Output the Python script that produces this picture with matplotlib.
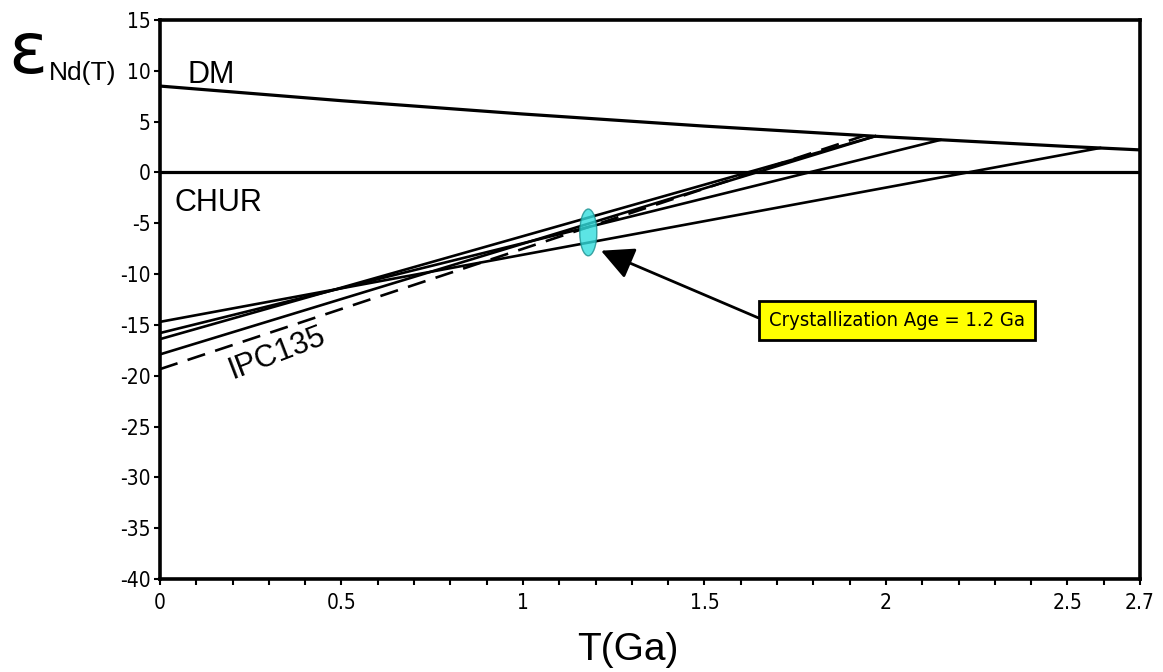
import numpy as np
import matplotlib
matplotlib.use("Agg")
import matplotlib.pyplot as plt
from matplotlib import font_manager
from matplotlib.font_manager import FontProperties
from matplotlib.patches import Ellipse

plt.rcParams["font.family"] = ["Liberation Sans", "DejaVu Sans"]

# look for a narrow / condensed face for the tick labels
cands = []
for f in font_manager.fontManager.ttflist:
    fn = f.fname.lower()
    if ("narrow" in fn or "condensed" in fn) and f.style == "normal" and f.weight in (400, "normal", "regular"):
        rank = 0 if "liberationsansnarrow" in fn.replace("-", "") else (1 if "sans" in fn else 2)
        cands.append((rank, f.fname))
cands.sort()
if cands:
    narrow = FontProperties(fname=cands[0][1])
else:
    narrow = FontProperties(family="Liberation Sans")

# Depleted mantle curve
dm_t = [0, 0.5, 1.0, 1.5, 2.0, 2.5, 2.7]
dm_eps = [8.5, 7.06, 5.75, 4.56, 3.5, 2.56, 2.22]

# sample evolution lines: eNd at T=0 and point where they meet DM
samp_e0 = [-14.7, -15.8, -16.4, -17.9, -19.35]
samp_tdm = [2.59, 2.15, 1.97, 1.97, 1.94]
samp_edm = [2.41, 3.2, 3.56, 3.56, 3.62]
samp_style = ["-", "-", "-", "-", "--"]

xticks = [0, 0.5, 1, 1.5, 2, 2.5, 2.7]
xticklabels = ["0", "0.5", "1", "1.5", "2", "2.5", "2.7"]
yticks = np.arange(-40, 16, 5)

cryst_age = 1.18
ell_eps = -5.9

fig = plt.figure(figsize=(11.63, 6.72), dpi=100)
ax = fig.add_axes([160/1163, 1-579/672, 980/1163, 559/672])

ax.plot(dm_t, dm_eps, color="black", lw=2.3, solid_capstyle="butt")
ax.axhline(0, color="black", lw=2.3)

for e0, t1, e1, ls in zip(samp_e0, samp_tdm, samp_edm, samp_style):
    if ls == "--":
        ax.plot([0, t1], [e0, e1], color="black", lw=1.9, dashes=(7, 4))
    else:
        ax.plot([0, t1], [e0, e1], color="black", lw=1.9)

ell = Ellipse((cryst_age, ell_eps), width=0.047, height=4.6,
              facecolor="#33dede", edgecolor="#1c8f8f", lw=1, alpha=0.8, zorder=5)
ax.add_patch(ell)

# callout box and arrow
ax.text(2.03, -14.6, "Crystallization Age = 1.2 Ga", ha="center", va="center",
        fontproperties=narrow, fontsize=14.5, zorder=6,
        bbox=dict(boxstyle="square,pad=0.5", fc="#ffff00", ec="black", lw=2))
ax.annotate("", xy=(1.215, -7.7), xytext=(1.648, -14.3),
            arrowprops=dict(arrowstyle="-|>,head_length=0.5,head_width=0.25",
                            mutation_scale=40, color="black", lw=2,
                            shrinkA=0, shrinkB=0), zorder=5)

ax.text(0.077, 8.78, "DM", fontsize=22)
ax.text(0.041, -3.8, "CHUR", fontsize=22)
ax.text(0.2, -20.3, "IPC135", fontsize=22, rotation=21, rotation_mode="anchor")

ax.set_xlim(0, 2.7)
ax.set_ylim(-40, 15)
ax.set_xticks(xticks)
ax.set_xticklabels(xticklabels, fontproperties=narrow, fontsize=15)
ax.set_xticks(np.arange(0.1, 2.7, 0.1), minor=True)
ax.set_yticks(yticks)
ax.set_yticklabels([str(v) for v in yticks], fontproperties=narrow, fontsize=15)
ax.tick_params(axis="x", which="both", length=4, width=1.5, pad=6, direction="out")
ax.tick_params(axis="y", length=4, width=1.5, pad=3, direction="out")
for s in ax.spines.values():
    s.set_linewidth(2.6)

# axis labels
fig.text(8/1163, 1-73/672, "\u03b5", fontsize=52, family="DejaVu Sans")
fig.text(49/1163, 1-80/672, "Nd(T)", fontsize=19)
fig.text(628/1163, 1-668/672, "T(Ga)", fontsize=28, ha="center", va="bottom")

fig.savefig("out.png", dpi=100)
